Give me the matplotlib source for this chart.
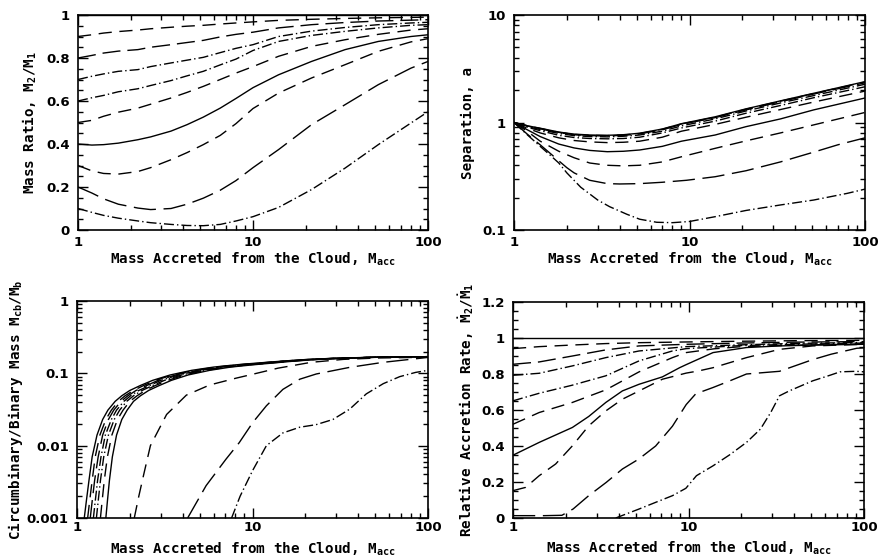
import matplotlib
matplotlib.use("Agg")
import matplotlib.pyplot as plt
from matplotlib.ticker import FixedLocator, NullFormatter, FixedFormatter, MultipleLocator

plt.rcParams['lines.scale_dashes'] = False
plt.rcParams['mathtext.fontset'] = 'custom'
plt.rcParams['mathtext.rm'] = 'DejaVu Sans Mono:bold'
plt.rcParams['mathtext.it'] = 'DejaVu Sans Mono:bold'
plt.rcParams['mathtext.bf'] = 'DejaVu Sans Mono:bold'

# ---------------- data ----------------
Q_VALUES = [0.1, 0.2, 0.3, 0.4, 0.5, 0.6, 0.7, 0.8, 0.9, 1.0]

# Panel 1: mass ratio q(M_acc)
X_Q = [1, 1.2, 1.4, 1.7, 2.2, 2.6, 3.4, 4.2, 5.2, 6.5, 8, 10, 14, 21.6, 33.6, 52, 80, 100]
Q_01 = [0.10, 0.082, 0.068, 0.055, 0.042, 0.034, 0.026, 0.021, 0.020, 0.026, 0.042, 0.062, 0.105, 0.188, 0.288, 0.397, 0.498, 0.550]
Q_02 = [0.20, 0.172, 0.145, 0.120, 0.102, 0.095, 0.100, 0.120, 0.148, 0.185, 0.230, 0.290, 0.374, 0.490, 0.583, 0.676, 0.753, 0.784]
Q_03 = [0.30, 0.275, 0.263, 0.260, 0.272, 0.290, 0.327, 0.360, 0.397, 0.440, 0.495, 0.565, 0.637, 0.707, 0.769, 0.831, 0.875, 0.890]
Q_04 = [0.40, 0.395, 0.397, 0.404, 0.420, 0.433, 0.460, 0.490, 0.525, 0.567, 0.612, 0.662, 0.722, 0.784, 0.839, 0.877, 0.900, 0.908]
Q_05 = [0.50, 0.510, 0.529, 0.548, 0.567, 0.585, 0.614, 0.640, 0.668, 0.700, 0.730, 0.760, 0.808, 0.854, 0.885, 0.910, 0.930, 0.936]
Q_06 = [0.60, 0.615, 0.626, 0.643, 0.657, 0.672, 0.695, 0.717, 0.738, 0.768, 0.795, 0.835, 0.877, 0.905, 0.924, 0.940, 0.952, 0.955]
Q_07 = [0.70, 0.715, 0.726, 0.738, 0.746, 0.760, 0.777, 0.790, 0.803, 0.825, 0.845, 0.862, 0.900, 0.925, 0.942, 0.955, 0.963, 0.966]
Q_08 = [0.80, 0.812, 0.823, 0.832, 0.839, 0.850, 0.862, 0.872, 0.882, 0.898, 0.910, 0.920, 0.940, 0.955, 0.965, 0.972, 0.976, 0.978]
Q_09 = [0.90, 0.908, 0.916, 0.923, 0.930, 0.936, 0.943, 0.948, 0.952, 0.958, 0.963, 0.968, 0.975, 0.980, 0.984, 0.987, 0.989, 0.990]
Q_10 = [1.0] * len(X_Q)

# Panel 2: separation a(M_acc)
X_A = [1, 1.2, 1.41, 1.8, 2.2, 2.7, 3.4, 4.2, 5.2, 7, 9, 14, 21, 33, 51, 100]
A_01_X = [1, 1.2, 1.41, 1.6, 1.8, 2.0, 2.4, 3.0, 3.5, 4.4, 5.2, 6.5, 8, 10, 14, 21, 33, 51, 79, 100]
A_01 = [1.0, 0.76, 0.60, 0.50, 0.42, 0.34, 0.25, 0.19, 0.165, 0.14, 0.126, 0.118, 0.117, 0.120, 0.133, 0.152, 0.171, 0.190, 0.219, 0.240]
A_02_X = [1, 1.2, 1.41, 1.6, 1.8, 2.0, 2.2, 2.7, 3.4, 4, 5.2, 7, 9.6, 14, 21, 33, 51, 70, 100]
A_02 = [1.0, 0.77, 0.62, 0.52, 0.44, 0.38, 0.34, 0.29, 0.27, 0.268, 0.27, 0.278, 0.29, 0.313, 0.356, 0.43, 0.53, 0.62, 0.72]
A_03 = [1.0, 0.82, 0.67, 0.54, 0.47, 0.42, 0.40, 0.395, 0.40, 0.43, 0.48, 0.575, 0.675, 0.80, 0.95, 1.24]
A_04 = [1.0, 0.85, 0.74, 0.63, 0.58, 0.55, 0.535, 0.54, 0.555, 0.60, 0.67, 0.765, 0.915, 1.08, 1.31, 1.69]
A_05 = [1.0, 0.88, 0.80, 0.72, 0.68, 0.66, 0.65, 0.655, 0.67, 0.73, 0.83, 0.96, 1.12, 1.32, 1.55, 1.96]
A_06 = [1.0, 0.90, 0.84, 0.76, 0.725, 0.71, 0.705, 0.71, 0.73, 0.80, 0.89, 1.03, 1.22, 1.44, 1.70, 2.15]
A_07 = [1.0, 0.915, 0.86, 0.79, 0.755, 0.74, 0.735, 0.745, 0.765, 0.83, 0.93, 1.08, 1.28, 1.52, 1.78, 2.27]
A_08 = [1.0, 0.925, 0.875, 0.805, 0.77, 0.755, 0.75, 0.76, 0.785, 0.855, 0.96, 1.11, 1.31, 1.56, 1.84, 2.34]
A_09 = [1.0, 0.93, 0.88, 0.81, 0.775, 0.76, 0.755, 0.765, 0.79, 0.865, 0.97, 1.12, 1.33, 1.58, 1.86, 2.38]
A_10 = [1.0, 0.93, 0.885, 0.815, 0.78, 0.765, 0.76, 0.77, 0.795, 0.87, 0.975, 1.13, 1.34, 1.59, 1.87, 2.40]

# Panel 3: circumbinary / binary mass
CB_LEVELS = [0.001, 0.0017, 0.0033, 0.007, 0.014, 0.023, 0.031, 0.041, 0.049, 0.058, 0.068,
             0.080, 0.095, 0.110, 0.122, 0.131, 0.137, 0.148, 0.155, 0.162, 0.167, 0.170]
CB_X_10 = [1.10, 1.13, 1.17, 1.22, 1.30, 1.40, 1.50, 1.65, 1.80, 2.00, 2.30, 2.70, 3.40, 4.50, 6.0, 8.0, 10.0, 15.0, 20.0, 30.0, 50, 100]
CB_X_09 = [1.15, 1.18, 1.22, 1.27, 1.35, 1.46, 1.57, 1.72, 1.88, 2.10, 2.40, 2.80, 3.50, 4.70, 6.2, 8.2, 10.3, 15.3, 20.4, 30.5, 50, 100]
CB_X_08 = [1.19, 1.22, 1.26, 1.32, 1.40, 1.51, 1.62, 1.78, 1.95, 2.17, 2.50, 2.90, 3.65, 4.85, 6.4, 8.5, 10.6, 15.6, 20.8, 31.0, 51, 100]
CB_X_07 = [1.24, 1.27, 1.31, 1.37, 1.45, 1.57, 1.68, 1.85, 2.02, 2.25, 2.60, 3.00, 3.80, 5.00, 6.6, 8.8, 11.0, 16.0, 21.2, 31.5, 51, 100]
CB_X_06 = [1.29, 1.32, 1.36, 1.42, 1.51, 1.63, 1.75, 1.92, 2.10, 2.35, 2.70, 3.15, 3.95, 5.20, 6.9, 9.1, 11.4, 16.5, 21.7, 32.0, 52, 100]
CB_X_05 = [1.36, 1.39, 1.43, 1.49, 1.58, 1.70, 1.83, 2.00, 2.20, 2.45, 2.80, 3.30, 4.10, 5.45, 7.2, 9.5, 11.8, 17.0, 22.3, 32.5, 52, 100]
CB_X_04 = [1.46, 1.49, 1.53, 1.59, 1.68, 1.80, 1.93, 2.10, 2.30, 2.56, 2.95, 3.45, 4.30, 5.70, 7.5, 10.0, 12.3, 17.5, 23.0, 33.0, 53, 100]
CB_03_X = [2.12, 2.25, 2.40, 2.62, 3.24, 4.2, 5.7, 8.1, 10, 14, 21.6, 33, 52, 100]
CB_03 = [0.001, 0.002, 0.004, 0.010, 0.027, 0.050, 0.069, 0.086, 0.097, 0.118, 0.142, 0.156, 0.163, 0.167]
CB_02_X = [4.27, 5.44, 7.06, 8.4, 10.05, 12, 14.9, 18.6, 23.1, 35.8, 55.6, 100]
CB_02 = [0.001, 0.0028, 0.0065, 0.011, 0.021, 0.0356, 0.060, 0.083, 0.098, 0.121, 0.142, 0.166]
CB_01_X = [7.6, 8.5, 10, 12, 14.9, 18.6, 23, 28.7, 35.8, 44.5, 55.6, 69, 85, 100]
CB_01 = [0.001, 0.002, 0.0045, 0.010, 0.015, 0.018, 0.0195, 0.023, 0.032, 0.052, 0.072, 0.090, 0.103, 0.110]

# Panel 4: relative accretion rate
R_10_X = [1, 100]
R_10 = [1.0, 1.0]
R_09_X = [1, 1.41, 2.18, 3.38, 5.23, 9.7, 20, 40, 100]
R_09 = [0.941, 0.952, 0.961, 0.969, 0.974, 0.978, 0.982, 0.985, 0.987]
R_08_X = [1, 1.41, 2.18, 3.38, 5.23, 9.7, 20, 40, 100]
R_08 = [0.854, 0.867, 0.900, 0.934, 0.956, 0.965, 0.972, 0.977, 0.980]
R_07_X = [1, 1.41, 2.18, 3.38, 5.23, 9.7, 20, 40, 100]
R_07 = [0.793, 0.804, 0.845, 0.891, 0.928, 0.952, 0.962, 0.970, 0.975]
R_06_X = [1, 1.41, 2.18, 3.38, 5.23, 8.1, 9.7, 20, 40, 100]
R_06 = [0.651, 0.693, 0.738, 0.790, 0.873, 0.928, 0.941, 0.958, 0.965, 0.972]
R_05_X = [1, 1.41, 2.18, 3.38, 5.23, 8.1, 9.7, 14, 20, 40, 100]
R_05 = [0.521, 0.586, 0.642, 0.712, 0.812, 0.891, 0.919, 0.940, 0.952, 0.960, 0.967]
R_04_X = [1, 1.41, 2.18, 2.7, 3.38, 4.2, 5.23, 7.1, 8.9, 9.7, 13.8, 21.4, 33, 60, 100]
R_04 = [0.349, 0.420, 0.503, 0.564, 0.642, 0.706, 0.743, 0.784, 0.835, 0.852, 0.919, 0.947, 0.956, 0.962, 0.965]
R_03_X = [1, 1.18, 1.41, 1.75, 2.18, 2.7, 3.38, 4.2, 5.23, 7.1, 9.7, 11.4, 13.8, 21.4, 33, 51, 100]
R_03 = [0.152, 0.170, 0.235, 0.300, 0.401, 0.512, 0.595, 0.660, 0.706, 0.771, 0.805, 0.817, 0.835, 0.891, 0.937, 0.956, 0.965]
R_02_X = [1, 1.5, 1.9, 2.2, 2.7, 3.4, 4.2, 5.2, 6.5, 8.1, 9.7, 11, 13.8, 17, 21.4, 33, 51, 65, 91, 100]
R_02 = [0.013, 0.013, 0.015, 0.050, 0.124, 0.198, 0.272, 0.327, 0.400, 0.510, 0.630, 0.690, 0.725, 0.760, 0.800, 0.815, 0.880, 0.910, 0.943, 0.945]
R_01_X = [3.85, 5.23, 6.5, 8.1, 9.66, 11.1, 13.8, 17.1, 21.4, 25.7, 29.4, 33, 37.5, 51, 64, 73, 90, 100]
R_01 = [0.0, 0.050, 0.087, 0.124, 0.165, 0.235, 0.290, 0.350, 0.420, 0.494, 0.586, 0.679, 0.706, 0.762, 0.793, 0.812, 0.815, 0.812]

X_TICKS = [1, 10, 100]
X_TICKLABELS = ['1', '10', '100']

# ---------------- styles ----------------
DASHDOT = (0, (7.2, 2.2, 1.0, 2.2))
LONGDASH = (0, (16, 5.5))
MEDDASH = (0, (9.5, 5.5))
LONGDASH2 = (0, (13, 5))
STYLE = {0.1: DASHDOT, 0.2: LONGDASH, 0.3: MEDDASH, 0.4: '-', 0.5: MEDDASH,
         0.6: DASHDOT, 0.7: DASHDOT, 0.8: LONGDASH2, 0.9: MEDDASH, 1.0: '-'}
LW = 1.0

TICK_FONT = dict(family='DejaVu Sans', weight='bold', size=9.5)
LABEL_FONT = dict(family='DejaVu Sans Mono', weight='bold', size=10.3)

fig = plt.figure(figsize=(8.8, 5.59), dpi=100)
W, H = 880.0, 559.0


def make_ax(l, r, t, b):
    return fig.add_axes([l / W, 1 - b / H, (r - l) / W, (b - t) / H])


ax1 = make_ax(78, 428, 15, 230)
ax2 = make_ax(514, 865, 15, 230)
ax3 = make_ax(77, 428, 301, 518)
ax4 = make_ax(513, 864, 302, 518)

# panel 1
for q, ys in zip(Q_VALUES, [Q_01, Q_02, Q_03, Q_04, Q_05, Q_06, Q_07, Q_08, Q_09, Q_10]):
    ax1.plot(X_Q, ys, color='black', lw=LW, linestyle=STYLE[q])

# panel 2
a_sets = [(A_01_X, A_01), (A_02_X, A_02), (X_A, A_03), (X_A, A_04), (X_A, A_05),
          (X_A, A_06), (X_A, A_07), (X_A, A_08), (X_A, A_09), (X_A, A_10)]
for q, (xs, ys) in zip(Q_VALUES, a_sets):
    ax2.plot(xs, ys, color='black', lw=LW, linestyle=STYLE[q])

# panel 3
cb_sets = [(CB_01_X, CB_01), (CB_02_X, CB_02), (CB_03_X, CB_03),
           (CB_X_04, CB_LEVELS), (CB_X_05, CB_LEVELS), (CB_X_06, CB_LEVELS),
           (CB_X_07, CB_LEVELS), (CB_X_08, CB_LEVELS), (CB_X_09, CB_LEVELS), (CB_X_10, CB_LEVELS)]
for q, (xs, ys) in zip(Q_VALUES, cb_sets):
    ax3.plot(xs, ys, color='black', lw=LW, linestyle=STYLE[q])

# panel 4
r_sets = [(R_01_X, R_01), (R_02_X, R_02), (R_03_X, R_03), (R_04_X, R_04), (R_05_X, R_05),
          (R_06_X, R_06), (R_07_X, R_07), (R_08_X, R_08), (R_09_X, R_09), (R_10_X, R_10)]
for q, (xs, ys) in zip(Q_VALUES, r_sets):
    ax4.plot(xs, ys, color='black', lw=LW, linestyle=STYLE[q])

minor_log = [m * d for d in (1, 10) for m in range(2, 10)]

for ax in (ax1, ax2, ax3, ax4):
    ax.set_xscale('log')
    ax.set_xlim(1, 100)
    ax.xaxis.set_major_locator(FixedLocator(X_TICKS))
    ax.xaxis.set_major_formatter(FixedFormatter(X_TICKLABELS))
    ax.xaxis.set_minor_locator(FixedLocator(minor_log))
    ax.xaxis.set_minor_formatter(NullFormatter())
    ax.tick_params(which='both', direction='in', top=True, right=True, width=1.0)
    ax.tick_params(which='major', length=7)
    ax.tick_params(which='minor', length=3.5)
    ax.tick_params(axis='y', pad=6)
    for s in ax.spines.values():
        s.set_linewidth(1.2)

ax1.tick_params(axis='x', pad=4.5)
ax2.tick_params(axis='x', pad=4.5)
ax3.tick_params(axis='x', pad=2.5)
ax4.tick_params(axis='x', pad=2.5)

# y axes
ax1.set_ylim(0, 1)
ax1.yaxis.set_major_locator(FixedLocator([0, 0.2, 0.4, 0.6, 0.8, 1.0]))
ax1.yaxis.set_major_formatter(FixedFormatter(['0', '0.2', '0.4', '0.6', '0.8', '1']))
ax1.yaxis.set_minor_locator(MultipleLocator(0.05))

ax2.set_yscale('log')
ax2.set_ylim(0.1, 10)
ax2.yaxis.set_major_locator(FixedLocator([0.1, 1, 10]))
ax2.yaxis.set_major_formatter(FixedFormatter(['0.1', '1', '10']))
ax2.yaxis.set_minor_locator(FixedLocator([m * d for d in (0.1, 1) for m in range(2, 10)]))
ax2.yaxis.set_minor_formatter(NullFormatter())

ax3.set_yscale('log')
ax3.set_ylim(0.001, 1)
ax3.yaxis.set_major_locator(FixedLocator([0.001, 0.01, 0.1, 1]))
ax3.yaxis.set_major_formatter(FixedFormatter(['0.001', '0.01', '0.1', '1']))
ax3.yaxis.set_minor_locator(FixedLocator([m * d for d in (0.001, 0.01, 0.1) for m in range(2, 10)]))
ax3.yaxis.set_minor_formatter(NullFormatter())

ax4.set_ylim(0, 1.2)
ax4.yaxis.set_major_locator(FixedLocator([0, 0.2, 0.4, 0.6, 0.8, 1.0, 1.2]))
ax4.yaxis.set_major_formatter(FixedFormatter(['0', '0.2', '0.4', '0.6', '0.8', '1', '1.2']))
ax4.yaxis.set_minor_locator(MultipleLocator(0.05))

for ax in (ax1, ax2, ax3, ax4):
    for lab in ax.get_xticklabels() + ax.get_yticklabels():
        lab.set_fontfamily(TICK_FONT['family'])
        lab.set_fontweight(TICK_FONT['weight'])
        lab.set_fontsize(TICK_FONT['size'])

XLABEL = r'Mass Accreted from the Cloud, $\mathrm{M_{acc}}$'
for ax in (ax1, ax2, ax3, ax4):
    ax.set_xlabel(XLABEL, **LABEL_FONT)

ax1.set_ylabel(r'Mass Ratio, $\mathrm{M_2/M_1}$', **LABEL_FONT)
ax2.set_ylabel(r'Separation, a', **LABEL_FONT)
ax3.set_ylabel(r'Circumbinary/Binary Mass $\mathrm{M_{cb}/M_b}$', **LABEL_FONT)
ax4.set_ylabel(r'Relative Accretion Rate, $\dot{\mathrm{M}}_2/\dot{\mathrm{M}}_1$', **LABEL_FONT)

ax1.xaxis.set_label_coords(0.5, -0.098)
ax2.xaxis.set_label_coords(0.5, -0.098)
ax3.xaxis.set_label_coords(0.5, -0.102)
ax4.xaxis.set_label_coords(0.5, -0.102)

ax1.yaxis.set_label_coords(-0.112, 0.5)
ax2.yaxis.set_label_coords(-0.111, 0.5)
ax3.yaxis.set_label_coords(-0.148, 0.5)
ax4.yaxis.set_label_coords(-0.105, 0.5)

fig.savefig('out.png', dpi=100)
